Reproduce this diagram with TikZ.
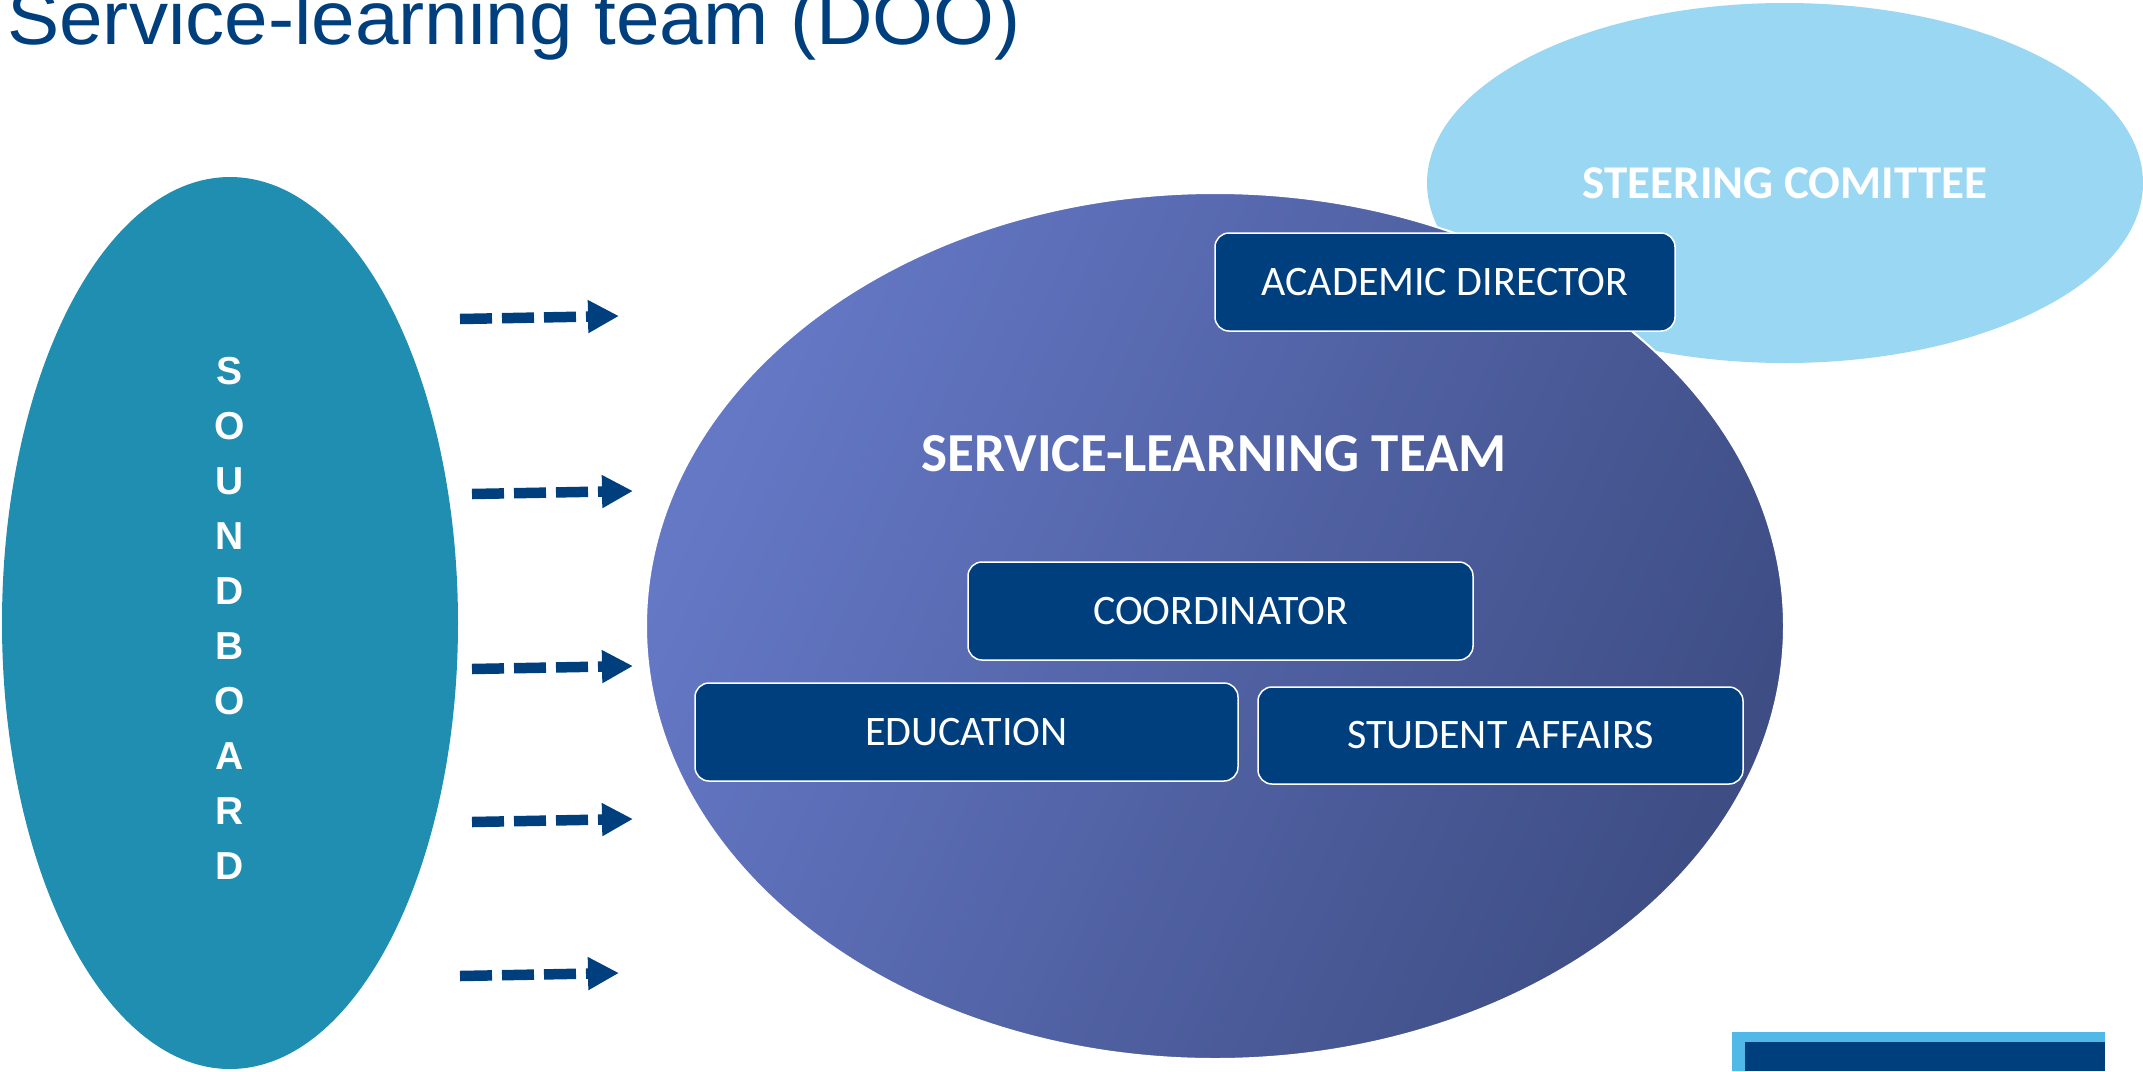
\documentclass[tikz,border=0pt]{standalone}
\usepackage{fontspec}
\setmainfont{Carlito}
\newfontfamily\arialf{Liberation Sans}
\usetikzlibrary{arrows.meta,shapes.geometric}
\definecolor{navy}{RGB}{0,63,125}
\definecolor{sbteal}{RGB}{31,142,176}
\definecolor{skyb}{RGB}{154,215,242}
\definecolor{purpL}{RGB}{101,120,198}
\definecolor{purpD}{RGB}{62,77,132}
\definecolor{barlight}{RGB}{80,185,232}
\tikzset{
  blob/.style={ellipse, inner sep=0pt},
  rolebox/.style={rectangle, rounded corners=14pt, draw=white, line width=1.5pt,
    fill=navy, text=white, font=\fontsize{42}{50}\selectfont, inner sep=0pt},
  feed/.style={draw=navy, line width=10.5pt, dash pattern=on 32pt off 10pt,
    -{Triangle[length=31pt,width=31pt]}},
}
\begin{document}
\begin{tikzpicture}[x=1pt,y=-1pt]
\useasboundingbox (0,0) rectangle (2143,1071);

% title
\node[anchor=base west, inner sep=0pt, text=navy,
      font=\arialf\fontsize{76}{80}\selectfont] (title) at (7,44)
      {\scalebox{1.03}[1]{Service-learning team (DOO)}};

% steering committee
\node[blob, fill=skyb, minimum width=716pt, minimum height=360pt,
      text=white, font=\bfseries\fontsize{47}{54}\selectfont] (steer) at (1785,183)
      {STEERING COMITTEE};

% service-learning team
\node[blob, draw=white, line width=2pt, left color=purpL, right color=purpD,
      shading angle=65, minimum width=1138pt, minimum height=866pt] (team) at (1215,626) {};
\node[text=white, font=\bfseries\fontsize{55}{62}\selectfont] (teamlabel) at (1214,454)
      {SERVICE-LEARNING TEAM};

% soundboard
\node[blob, fill=sbteal, minimum width=456pt, minimum height=892pt] (sb) at (230,623) {};
\node[text=white, align=center, inner sep=0pt,
      font=\arialf\bfseries\fontsize{39}{55}\selectfont] (sbtext) at (230,618.5)
      {S\\O\\U\\N\\D\\B\\O\\A\\R\\D};

% role boxes
\node[rolebox, minimum width=460pt, minimum height=98pt] (acad) at (1445,282) {ACADEMIC DIRECTOR};
\node[rolebox, minimum width=505pt, minimum height=98pt] (coord) at (1220.5,611) {COORDINATOR};
\node[rolebox, minimum width=543pt, minimum height=98pt] (edu) at (966.5,732) {EDUCATION};
\node[rolebox, minimum width=485pt, minimum height=97pt] (stud) at (1500.5,735.5) {STUDENT AFFAIRS};

% arrows
\coordinate (a1s) at (460,319); \coordinate (a1e) at (619,316);
\coordinate (a2s) at (472,494); \coordinate (a2e) at (633,491);
\coordinate (a3s) at (472,669); \coordinate (a3e) at (633,666);
\coordinate (a4s) at (472,822); \coordinate (a4e) at (633,819);
\coordinate (a5s) at (460,976); \coordinate (a5e) at (619,973);
\draw[feed] (a1s) -- (a1e);
\draw[feed] (a2s) -- (a2e);
\draw[feed] (a3s) -- (a3e);
\draw[feed] (a4s) -- (a4e);
\draw[feed] (a5s) -- (a5e);

% bottom-right bar
\node[fill=barlight, anchor=north west, inner sep=0pt, minimum width=373pt, minimum height=39pt] (barout) at (1732,1032) {};
\node[fill=navy, anchor=north west, inner sep=0pt, minimum width=360pt, minimum height=29pt] (barin) at (1745,1042) {};
\end{tikzpicture}
\end{document}
